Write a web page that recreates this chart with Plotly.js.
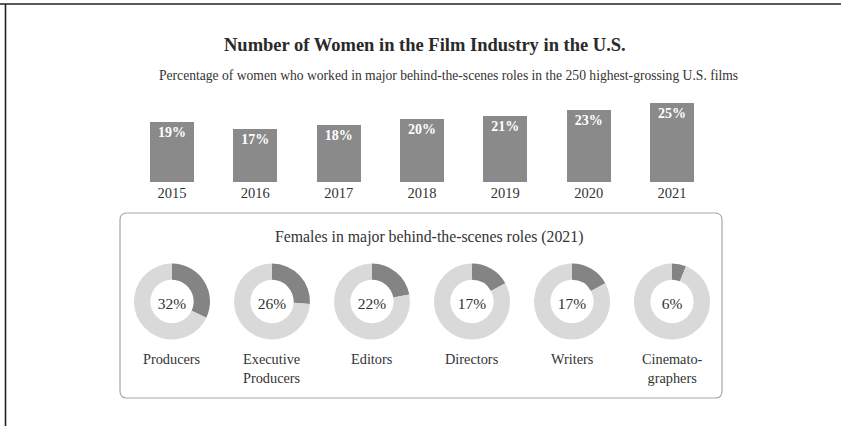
<!DOCTYPE html>
<html>
<head>
<meta charset="utf-8">
<script src="https://cdn.plot.ly/plotly-3.0.1.min.js"></script>
<style>
html,body{margin:0;padding:0;background:#fff;}
#chart{width:841px;height:426px;}
</style>
</head>
<body>
<div id="chart"></div>
<script>
// ---- data ----
const years = ['2015','2016','2017','2018','2019','2020','2021'];
const womenPct = [19, 17, 18, 20, 21, 23, 25];
const roles = ['Producers', 'Executive<br>Producers', 'Editors', 'Directors', 'Writers', 'Cinemato-<br>graphers'];
const rolePct = [32, 26, 22, 17, 17, 6];

const titleText = 'Number of Women in the Film Industry in the U.S.';
const subtitleText = 'Percentage of women who worked in major behind-the-scenes roles in the 250 highest-grossing U.S. films';
const boxTitleText = 'Females in major behind-the-scenes roles (2021)';

// ---- layout helpers ----
const W = 841, H = 426;
const px = x => x / W;
const py = y => (H - y) / H;
const SERIF = '"Liberation Serif", "Times New Roman", serif';

const traces = [];
traces.push({
  type: 'bar',
  x: years,
  y: womenPct,
  width: 0.528,
  marker: {color: '#8a8a8a', line: {width: 0}},
  texttemplate: '<b>%{y}%</b>',
  textposition: 'inside',
  insidetextanchor: 'end',
  constraintext: 'none',
  textfont: {family: SERIF, size: 14, color: '#ffffff'},
  hoverinfo: 'skip',
  xaxis: 'x', yaxis: 'y'
});

const R = 38;
const donutCY = 301.5;
rolePct.forEach((p, i) => {
  const cx = 172 + 100 * i;
  traces.push({
    type: 'pie',
    values: [p, 100 - p],
    labels: ['Women', 'Others'],
    sort: false,
    direction: 'clockwise',
    rotation: 0,
    hole: 0.57,
    textinfo: 'none',
    hoverinfo: 'skip',
    showlegend: false,
    marker: {colors: ['#848484', '#d9d9d9'], line: {width: 0}},
    domain: {x: [px(cx - R), px(cx + R)], y: [py(donutCY + R), py(donutCY - R)]},
    title: {text: p + '%', position: 'middle center', font: {family: SERIF, size: 15.5, color: '#333'}}
  });
});

const annotations = [
  {text: '<b>' + titleText + '</b>', x: px(425), y: py(45), xref: 'paper', yref: 'paper', showarrow: false,
   font: {family: SERIF, size: 18.5, color: '#2a2a2a'}, xanchor: 'center', yanchor: 'middle'},
  {text: subtitleText, x: px(448), y: py(75), xref: 'paper', yref: 'paper', showarrow: false,
   font: {family: SERIF, size: 13.6, color: '#333'}, xanchor: 'center', yanchor: 'middle'},
  {text: boxTitleText, x: px(429), y: py(237), xref: 'paper', yref: 'paper', showarrow: false,
   font: {family: SERIF, size: 15.8, color: '#333'}, xanchor: 'center', yanchor: 'middle'}
];
roles.forEach((r, i) => {
  annotations.push({
    text: r, x: px(172 + 100 * i), y: py(349), xref: 'paper', yref: 'paper', showarrow: false,
    font: {family: SERIF, size: 14.3, color: '#333'}, xanchor: 'center', yanchor: 'top', align: 'center'
  });
});

// rounded box path in paper fractions
function roundRect(x0, y0, x1, y1, r) {
  const X = v => px(v).toFixed(5), Y = v => py(v).toFixed(5);
  return 'M' + X(x0 + r) + ',' + Y(y0) +
    ' L' + X(x1 - r) + ',' + Y(y0) +
    ' Q' + X(x1) + ',' + Y(y0) + ' ' + X(x1) + ',' + Y(y0 + r) +
    ' L' + X(x1) + ',' + Y(y1 - r) +
    ' Q' + X(x1) + ',' + Y(y1) + ' ' + X(x1 - r) + ',' + Y(y1) +
    ' L' + X(x0 + r) + ',' + Y(y1) +
    ' Q' + X(x0) + ',' + Y(y1) + ' ' + X(x0) + ',' + Y(y1 - r) +
    ' L' + X(x0) + ',' + Y(y0 + r) +
    ' Q' + X(x0) + ',' + Y(y0) + ' ' + X(x0 + r) + ',' + Y(y0) + ' Z';
}

const shapes = [
  {type: 'path', xref: 'paper', yref: 'paper', path: roundRect(120, 213, 722, 398, 7),
   line: {color: '#a8a8a8', width: 1.2}, fillcolor: 'rgba(0,0,0,0)'},
  {type: 'line', xref: 'paper', yref: 'paper', x0: 0, x1: 1, y0: py(4), y1: py(4),
   line: {color: '#222', width: 1.6}},
  {type: 'line', xref: 'paper', yref: 'paper', x0: px(5.5), x1: px(5.5), y0: py(4), y1: 0,
   line: {color: '#222', width: 1.6}}
];

const layout = {
  width: W, height: H,
  margin: {l: 0, r: 0, t: 0, b: 0},
  paper_bgcolor: '#ffffff',
  plot_bgcolor: 'rgba(0,0,0,0)',
  showlegend: false,
  bargap: 0,
  xaxis: {
    domain: [px(130.3), px(713.7)],
    type: 'category',
    range: [-0.5, 6.5],
    showgrid: false, zeroline: false, showline: false,
    ticks: '', ticklen: 0,
    tickfont: {family: SERIF, size: 14.5, color: '#333'},
    fixedrange: true
  },
  yaxis: {
    domain: [py(182.3), py(182.3 - 3.16 * 30)],
    range: [0, 30],
    showgrid: false, zeroline: false, showline: false,
    showticklabels: false, ticks: '',
    fixedrange: true
  },
  annotations: annotations,
  shapes: shapes
};

Plotly.newPlot('chart', traces, layout, {displayModeBar: false, staticPlot: true});
</script>
</body>
</html>
